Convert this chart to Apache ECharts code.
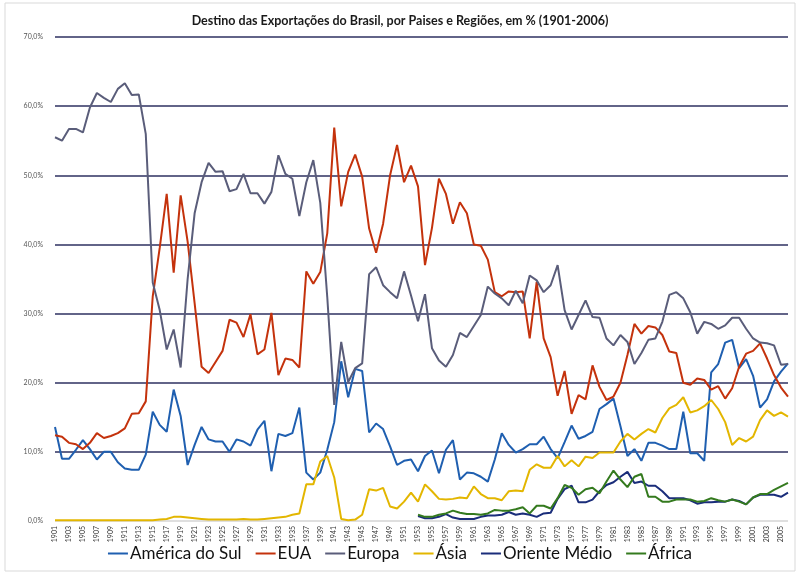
<!DOCTYPE html>
<html>
<head>
<meta charset="utf-8">
<script src="https://cdn.jsdelivr.net/npm/echarts@6/dist/echarts.min.js"></script>
<style>html,body{margin:0;padding:0;background:#fff}#c{width:800px;height:583px}</style>
</head>
<body>
<div id="c"></div>
<script>
var years = [
'1901','1902','1903','1904','1905','1906','1907','1908','1909','1910',
'1911','1912','1913','1914','1915','1916','1917','1918','1919','1920',
'1921','1922','1923','1924','1925','1926','1927','1928','1929','1930',
'1931','1932','1933','1934','1935','1936','1937','1938','1939','1940',
'1941','1942','1943','1944','1945','1946','1947','1948','1949','1950',
'1951','1952','1953','1954','1955','1956','1957','1958','1959','1960',
'1961','1962','1963','1964','1965','1966','1967','1968','1969','1970',
'1971','1972','1973','1974','1975','1976','1977','1978','1979','1980',
'1981','1982','1983','1984','1985','1986','1987','1988','1989','1990',
'1991','1992','1993','1994','1995','1996','1997','1998','1999','2000',
'2001','2002','2003','2004','2005','2006'];

var americaDoSul = [
13.6,9.0,9.0,10.3,11.7,10.4,8.9,10.0,10.0,8.5,
7.6,7.4,7.4,9.6,15.8,13.9,12.9,19.0,15.2,8.1,
11.0,13.6,11.8,11.5,11.5,10.0,11.8,11.5,10.9,13.2,
14.5,7.2,12.6,12.3,12.7,16.4,7.0,6.0,7.0,10.3,
14.3,23.1,17.9,22.0,21.7,12.8,14.1,13.3,10.8,8.1,
8.7,8.9,7.2,9.4,10.2,6.9,10.3,11.7,6.0,7.0,
6.9,6.4,5.7,8.9,12.7,11.0,9.9,10.4,11.1,11.1,
12.2,10.4,9.1,11.4,13.8,11.9,12.3,12.9,16.2,16.9,
17.7,13.7,9.4,10.4,8.7,11.3,11.3,10.9,10.4,10.4,
15.8,9.8,9.8,8.7,21.5,22.7,25.8,26.2,22.1,23.4,
21.0,16.4,17.6,20.2,21.6,22.8];

var eua = [
12.4,12.2,11.3,11.1,10.4,11.3,12.7,12.0,12.3,12.7,
13.4,15.5,15.6,17.3,32.5,39.5,47.3,35.9,47.1,40.4,
31.5,22.3,21.4,23.0,24.6,29.1,28.7,26.6,29.9,24.1,
24.8,30.1,21.1,23.5,23.3,22.2,36.1,34.3,36.0,41.6,
56.9,45.5,50.5,53.0,49.8,42.3,38.8,43.0,50.0,54.4,
49.0,51.4,48.4,37.0,42.4,49.5,47.3,43.0,46.1,44.5,
40.0,39.8,37.8,33.1,32.5,33.2,33.1,33.2,26.4,34.6,
26.4,23.7,18.1,21.7,15.5,18.2,17.6,22.5,19.4,17.5,
18.0,20.0,24.0,28.5,27.1,28.2,28.0,26.9,24.5,24.3,
20.0,19.7,20.6,20.4,19.0,19.5,17.7,19.2,22.3,24.2,
24.6,25.7,23.5,21.1,19.3,18.0];

var europa = [
55.5,55.0,56.7,56.7,56.2,59.8,61.9,61.2,60.6,62.5,
63.3,61.6,61.7,56.0,34.5,30.5,24.8,27.7,22.2,35.0,
44.5,49.0,51.8,50.5,50.6,47.7,48.0,50.2,47.4,47.4,
45.9,47.6,52.9,50.2,49.5,44.1,49.0,52.2,46.0,32.4,
16.8,25.9,20.1,22.1,22.8,35.7,36.7,34.1,33.1,32.2,
36.1,32.6,28.9,32.8,25.0,23.2,22.3,24.0,27.2,26.6,
28.2,29.8,33.9,32.9,32.2,31.2,33.3,31.5,35.5,34.8,
33.1,34.1,37.0,30.5,27.7,29.8,31.9,29.5,29.4,26.4,
25.4,26.9,25.9,22.7,24.3,26.2,26.4,28.8,32.7,33.1,
32.2,30.2,27.1,28.8,28.5,27.8,28.3,29.4,29.4,27.8,
26.4,25.8,25.7,25.4,22.6,22.7];

var asia = [
0.1,0.1,0.1,0.1,0.1,0.1,0.1,0.1,0.1,0.1,
0.1,0.1,0.1,0.1,0.1,0.2,0.3,0.6,0.6,0.5,
0.4,0.3,0.2,0.2,0.2,0.2,0.2,0.3,0.2,0.2,
0.3,0.4,0.5,0.6,0.9,1.1,5.3,5.3,8.6,9.4,
6.3,0.3,0.1,0.2,0.9,4.6,4.4,4.8,2.1,1.8,
2.8,4.1,2.8,5.3,4.3,3.2,3.1,3.2,3.4,3.3,
5.0,3.9,3.3,3.3,3.0,4.3,4.4,4.3,7.4,8.2,
7.7,7.7,9.4,7.9,8.8,7.9,9.3,9.1,9.9,9.9,
9.9,11.5,12.6,11.8,12.6,13.3,12.8,14.9,16.3,16.8,
17.9,15.7,16.0,16.6,17.5,16.2,14.3,11.0,12.0,11.5,
12.2,14.6,16.0,15.2,15.7,15.1];

var orienteMedio = [
null,null,null,null,null,null,null,null,null,null,
null,null,null,null,null,null,null,null,null,null,
null,null,null,null,null,null,null,null,null,null,
null,null,null,null,null,null,null,null,null,null,
null,null,null,null,null,null,null,null,null,null,
null,null,0.7,0.4,0.4,0.6,1.0,0.5,0.3,0.3,
0.3,0.6,0.8,0.8,0.9,1.3,0.9,1.1,0.9,0.6,
1.1,1.2,3.2,4.6,5.1,2.7,2.7,3.1,4.3,5.2,
5.6,6.4,7.1,5.5,5.7,5.1,5.1,4.3,3.3,3.3,
3.3,3.0,2.5,2.7,2.7,2.8,2.8,3.1,2.9,2.4,
3.4,3.8,3.8,3.8,3.5,4.1];

var africa = [
null,null,null,null,null,null,null,null,null,null,
null,null,null,null,null,null,null,null,null,null,
null,null,null,null,null,null,null,null,null,null,
null,null,null,null,null,null,null,null,null,null,
null,null,null,null,null,null,null,null,null,null,
null,null,0.9,0.6,0.6,0.9,1.1,1.5,1.2,1.0,
1.0,0.9,1.1,1.6,1.5,1.5,1.7,2.0,1.1,2.2,
2.2,1.8,3.3,5.2,4.8,3.8,4.6,4.8,4.0,5.7,
7.3,6.0,4.9,6.4,6.8,3.5,3.5,2.8,2.8,3.1,
3.1,3.1,2.8,2.9,3.3,3.0,2.8,3.1,2.8,2.4,
3.4,3.9,3.9,4.5,5.0,5.5];

var seriesNames = ['América do Sul','EUA','Europa','Ásia','Oriente Médio','África'];
var seriesColors = ['#1f5fb0','#c4320c','#5a5d7a','#e3b600','#1a2d7a','#347a1e'];
var seriesData = [americaDoSul, eua, europa, asia, orienteMedio, africa];

var chart = echarts.init(document.getElementById('c'));
var FONT = 'Lato, "Open Sans", sans-serif';
var gridColors = ['#d4d4d4','#2e3160','#2e3160','#2e3160','#2e3160','#2e3160','#2e3160','#2e3160'];

chart.setOption({
  backgroundColor: '#fff',
  animation: false,
  textStyle: { fontFamily: FONT },
  graphic: [{
    type: 'rect', shape: { x: 5, y: 3, width: 790, height: 568 },
    style: { fill: 'none', stroke: '#d9d9d9', lineWidth: 1 }, silent: true, z: -1
  }],
  title: {
    text: 'Destino das Exportações do Brasil, por Paises e Regiões, em % (1901-2006)',
    left: 'center', top: 9,
    textStyle: { fontFamily: FONT, fontSize: 12.5, fontWeight: 'bold', color: '#1a1a1a' }
  },
  legend: {
    bottom: 16, left: 'center',
    itemWidth: 20, itemHeight: 2, itemGap: 14,
    icon: 'rect',
    textStyle: { fontFamily: FONT, fontSize: 17, color: '#111', padding: [0, 0, 0, -3] },
    data: seriesNames
  },
  grid: { left: 55, right: 12, top: 37, bottom: 62 },
  xAxis: {
    type: 'category', data: years, boundaryGap: false,
    axisLine: { show: false },
    axisTick: { show: false },
    axisLabel: { interval: 1, rotate: 90, fontSize: 7, color: '#333', margin: 5, fontFamily: FONT }
  },
  yAxis: {
    type: 'value', min: 0, max: 70, interval: 10,
    axisLine: { show: false }, axisTick: { show: false },
    axisLabel: {
      fontSize: 7, color: '#555', margin: 12, fontFamily: FONT,
      formatter: function (v) { return v.toFixed(1).replace('.', ',') + '%'; }
    },
    splitLine: { lineStyle: { color: gridColors, width: 1.5 } }
  },
  series: seriesNames.map(function (n, i) {
    return {
      name: n, type: 'line', data: seriesData[i],
      showSymbol: false, symbol: 'none', connectNulls: false,
      lineStyle: { width: 2, color: seriesColors[i] },
      itemStyle: { color: seriesColors[i] }
    };
  })
});
</script>
</body>
</html>
